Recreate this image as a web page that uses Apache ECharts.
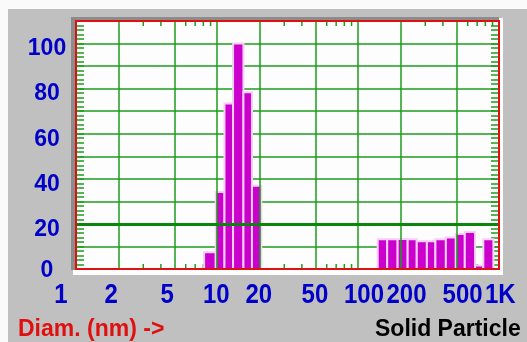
<!DOCTYPE html>
<html>
<head>
<meta charset="utf-8">
<script src="https://cdn.jsdelivr.net/npm/echarts@6/dist/echarts.min.js"></script>
<style>
  html, body { margin: 0; padding: 0; background: #fafafa; }
  #chart { width: 527px; height: 342px; }
</style>
</head>
<body>
<div id="chart"></div>
<script>
// Particle size distribution: each bar spans one diameter bin (nm)
const binLow    = [8.1, 9.8, 11.3, 13.0, 15.4, 17.7, 138, 161, 191, 225, 261, 308, 354, 420, 494, 572, 676, 774];
const binHigh   = [9.8, 11.3, 13.0, 15.4, 17.7, 20.6, 161, 191, 225, 261, 308, 354, 420, 494, 572, 676, 774, 912];
const intensity = [7.4, 34.2, 73.4, 100, 78.4, 36.9, 13.2, 13.2, 13.3, 13.2, 12.3, 12.3, 13.2, 14.0, 15.5, 16.4, 1.6, 13.2];

// Diameter axis (log scale)
const xTickValues = [1, 2, 5, 10, 20, 50, 100, 200, 500, 1000];
const xTickLabels = ['1', '2', '5', '10', '20', '50', '100', '200', '500', '1K'];
const xGridValues = [2, 5, 10, 20, 50, 100, 200, 500];
const xMinorTicks = [3, 4, 6, 7, 8, 9, 30, 40, 60, 70, 80, 90, 300, 400, 600, 700, 800, 900];

// Intensity axis
const yLabelValues = [0, 20, 40, 60, 80, 100];
const yLabelTexts = ['0', '20', '40', '60', '80', '100'];
const yMax = 110;
const yStep = 10;
const yBaseline = 20;

const GREEN = '#1c9c1c';
const GREEN_DARK = '#0a860a';
const BLUE = '#0000c8';
const RED = '#e01010';
const MAGENTA = '#cc00cc';
const FONT = '"Liberation Sans", Arial, sans-serif';

const G = { left: 76, top: 21, width: 423, height: 248 };

const chart = echarts.init(document.getElementById('chart'), null, { renderer: 'canvas' });

const yAxisCommon = {
  type: 'value', min: 0, max: yMax, interval: yStep,
  axisLine: { show: false },
  axisLabel: { show: false },
  axisTick: { show: true, inside: true, length: 8, lineStyle: { color: GREEN, width: 1.5 } },
  minorTick: { show: true, splitNumber: 5, length: 8, lineStyle: { color: GREEN, width: 1.5 } }
};

chart.setOption({
  animation: false,
  backgroundColor: '#fafafa',
  grid: {
    left: G.left, top: G.top, width: G.width, height: G.height,
    show: true, backgroundColor: '#fdfdfd', borderWidth: 0
  },
  graphic: [
    // gray panel with a sunken frame around the plot
    { type: 'rect', z: -30, silent: true, shape: { x: 8, y: 9, width: 519, height: 333 }, style: { fill: '#c0c0c0' } },
    { type: 'rect', z: -20, silent: true, shape: { x: 73, y: 18, width: 430, height: 257 }, style: { fill: '#ffffff' } },
    { type: 'rect', z: -10, silent: true, shape: { x: 71, y: 17, width: G.left + G.width - 71, height: G.top + G.height + 1 - 17 }, style: { fill: '#8c8c8c' } },
    { type: 'rect', z: 50, silent: true, shape: { x: G.left, y: G.top, width: G.width, height: G.height }, style: { fill: null, stroke: RED, lineWidth: 2 } },
    { type: 'text', z: 50, x: 18, y: 330, style: { text: 'Diam. (nm) ->', font: 'bold 23px ' + FONT, fill: RED, verticalAlign: 'middle' } },
    { type: 'text', z: 50, x: 375, y: 330, style: { text: 'Solid Particle', font: 'bold 23px ' + FONT, fill: '#000000', verticalAlign: 'middle' } }
  ],
  xAxis: {
    type: 'log', logBase: 10, min: 1, max: 1000,
    axisLine: { show: false }, axisTick: { show: false },
    axisLabel: { show: false }, splitLine: { show: false }
  },
  yAxis: [
    Object.assign({}, yAxisCommon, {
      position: 'left',
      splitLine: { show: true, lineStyle: { color: GREEN, width: 1.5 } }
    }),
    Object.assign({}, yAxisCommon, {
      position: 'right',
      splitLine: { show: false }
    })
  ],
  series: [
    {
      // short log-scale ticks along the top and bottom edges, plus the vertical grid
      type: 'custom', z: 1, silent: true,
      data: xMinorTicks.map(v => [v, 0]),
      renderItem: (params, api) => {
        const b = api.coord([api.value(0), 0]);
        const t = api.coord([api.value(0), yMax]);
        const style = { stroke: GREEN, lineWidth: 1.5 };
        return {
          type: 'group',
          children: [
            { type: 'line', shape: { x1: b[0], y1: b[1], x2: b[0], y2: b[1] - 5 }, style },
            { type: 'line', shape: { x1: t[0], y1: t[1], x2: t[0], y2: t[1] + 5 }, style }
          ]
        };
      },
      markLine: {
        silent: true, symbol: 'none', label: { show: false },
        lineStyle: { color: GREEN, width: 1.5, type: 'solid' },
        data: xGridValues.map(v => ({ xAxis: v })).concat([
          { yAxis: yBaseline, lineStyle: { color: GREEN_DARK, width: 3, type: 'solid' } }
        ])
      }
    },
    {
      // distribution bars
      type: 'custom', z: 3, silent: true,
      data: binLow.map((lo, i) => [lo, binHigh[i], intensity[i]]),
      encode: { x: [0, 1], y: 2 },
      renderItem: (params, api) => {
        const a = api.coord([api.value(0), 0]);
        const b = api.coord([api.value(1), api.value(2)]);
        return {
          type: 'rect',
          shape: { x: a[0], y: b[1], width: b[0] - a[0], height: a[1] - b[1] },
          style: { fill: MAGENTA, stroke: '#f6d0f6', lineWidth: 2 }
        };
      }
    },
    {
      // diameter tick labels
      type: 'custom', z: 4, silent: true,
      data: xTickValues.map(v => [v, 0]),
      renderItem: (params, api) => {
        const i = params.dataIndex;
        const p = api.coord([api.value(0), 0]);
        const first = i === 0;
        return {
          type: 'text',
          x: first ? p[0] - 15 : p[0] - 14,
          y: p[1] + 26,
          scaleY: 1.17,
          style: {
            text: xTickLabels[i], font: 'bold 24px ' + FONT, fill: BLUE,
            align: first ? 'center' : 'left', verticalAlign: 'middle'
          }
        };
      }
    },
    {
      // intensity tick labels, set just below their grid lines
      type: 'custom', z: 4, silent: true,
      data: yLabelValues.map(v => [1, v]),
      renderItem: (params, api) => {
        const i = params.dataIndex;
        const v = api.value(1);
        const p = api.coord([1, v]);
        return {
          type: 'text',
          x: p[0] - 29,
          y: p[1] + (v === 0 ? 2 : 5.5),
          style: {
            text: yLabelTexts[i], font: 'bold 23px ' + FONT, fill: BLUE,
            align: 'center', verticalAlign: 'middle'
          }
        };
      }
    }
  ]
});
</script>
</body>
</html>
